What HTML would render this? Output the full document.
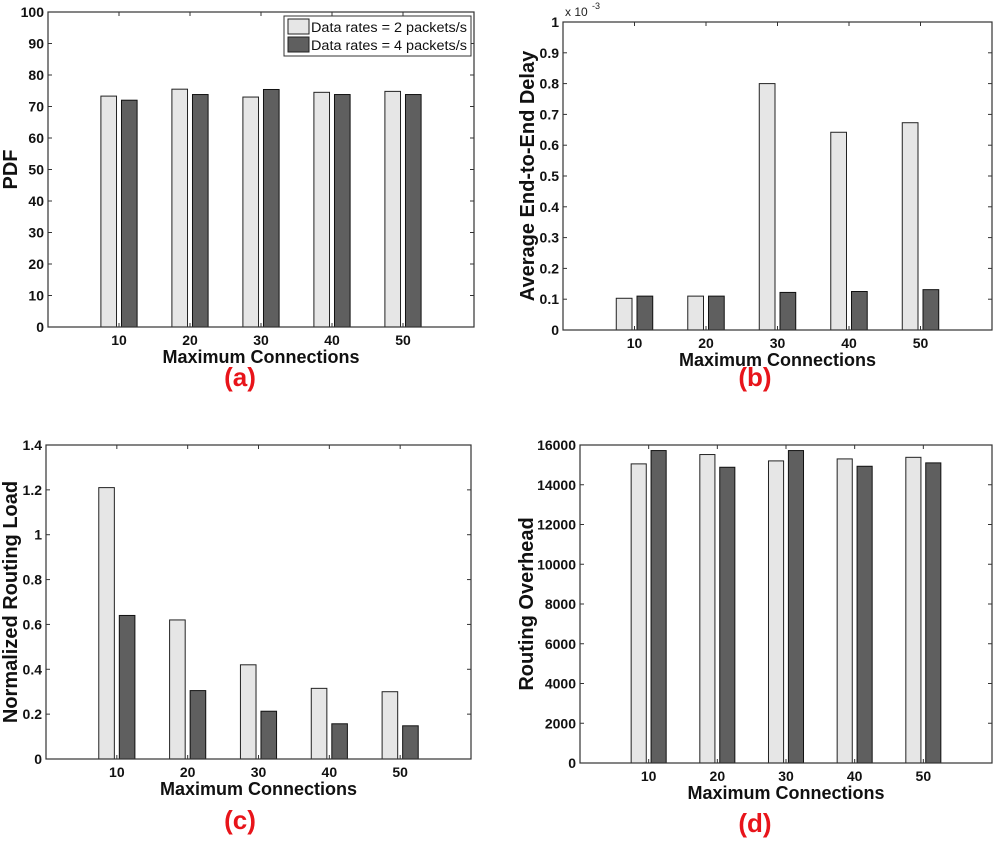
<!DOCTYPE html>
<html><head><meta charset="utf-8"><style>
html,body{margin:0;padding:0;background:#fff;}
svg{display:block;font-family:"Liberation Sans",Arial,sans-serif;}
.tk{font-size:14px;font-weight:bold;fill:#111;}
.at{font-size:18px;font-weight:bold;fill:#111;}
.yt{font-size:20px;font-weight:bold;fill:#111;}
.pl{font-size:26px;font-weight:bold;fill:#e8141a;}
</style></head><body>
<svg id="fig" width="995" height="851" viewBox="0 0 995 851"></svg>
<script>
const categories = [10, 20, 30, 40, 50];
const pdf2 = [73.3, 75.5, 73.0, 74.5, 74.8];
const pdf4 = [72.0, 73.8, 75.4, 73.8, 73.8];
const delay2 = [0.103, 0.110, 0.800, 0.642, 0.673];
const delay4 = [0.110, 0.110, 0.122, 0.125, 0.131];
const nrl2 = [1.21, 0.62, 0.42, 0.315, 0.30];
const nrl4 = [0.64, 0.305, 0.213, 0.157, 0.148];
const ovh2 = [15050, 15520, 15200, 15300, 15380];
const ovh4 = [15720, 14880, 15720, 14930, 15100];
const pdfTicks = [0,10,20,30,40,50,60,70,80,90,100];
const delayTicks = [0,0.1,0.2,0.3,0.4,0.5,0.6,0.7,0.8,0.9,1];
const nrlTicks = [0,0.2,0.4,0.6,0.8,1,1.2,1.4];
const ovhTicks = [0,2000,4000,6000,8000,10000,12000,14000,16000];
const legendLabels = ["Data rates = 2 packets/s", "Data rates = 4 packets/s"];

const NS = "http://www.w3.org/2000/svg";
const svg = document.getElementById('fig');
function mk(tag, attrs, parent, text){
  const e = document.createElementNS(NS, tag);
  for (const k in attrs) e.setAttribute(k, attrs[k]);
  if (text !== undefined) e.textContent = text;
  (parent || svg).appendChild(e);
  return e;
}

function panel(p){
  const g = mk('g', {});
  
  
  const xS = v => p.x0 + (v / 60) * (p.x1 - p.x0);
  const yS = v => p.y1 - (v / p.ymax) * (p.y1 - p.y0);
  const unit = (p.x1 - p.x0) / 60;
  const bw = 2.2 * unit, off = 1.45 * unit;
  categories.forEach((c, i) => {
    const cx = xS(c);
    const a = mk('rect', {x: cx - off - bw/2, y: yS(p.s1[i]), width: bw, height: yS(0) - yS(p.s1[i]), fill: '#e6e6e6', stroke: '#222', 'stroke-width': 1}, g);
    
    
    const b = mk('rect', {x: cx + off - bw/2, y: yS(p.s2[i]), width: bw, height: yS(0) - yS(p.s2[i]), fill: '#5f5f5f', stroke: '#111', 'stroke-width': 1}, g);
    
    
    mk('line', {x1: cx, x2: cx, y1: p.y0, y2: p.y0 + 4, stroke: '#333'}, g);
    mk('line', {x1: cx, x2: cx, y1: p.y1, y2: p.y1 - 4, stroke: '#333'}, g);
    const t = mk('text', {x: cx, y: p.y1 + 18, 'text-anchor': 'middle', class: 'tk'}, g, String(c));
    
    
  });
  p.ticks.forEach((v, i) => {
    const y = yS(v);
    mk('line', {x1: p.x0, x2: p.x0 + 4, y1: y, y2: y, stroke: '#333'}, g);
    mk('line', {x1: p.x1, x2: p.x1 - 4, y1: y, y2: y, stroke: '#333'}, g);
    const t = mk('text', {x: p.x0 - 4, y: y + 5, 'text-anchor': 'end', class: 'tk'}, g, String(v));
    
    
  });
  const box = mk('rect', {x: p.x0, y: p.y0, width: p.x1 - p.x0, height: p.y1 - p.y0, fill: 'none', stroke: '#333', 'stroke-width': 1.2}, g);
  
  
  const xt = mk('text', {x: (p.x0 + p.x1) / 2, y: p.y1 + 36, 'text-anchor': 'middle', class: 'at'}, g, 'Maximum Connections');
  
  
  const yt = mk('text', {x: 0, y: 0, 'text-anchor': 'middle', class: 'yt', transform: 'translate(' + p.ytx + ',' + ((p.y0 + p.y1) / 2) + ') rotate(-90)'}, g, p.ytitle);
  
  
  const lab = mk('text', {x: p.labx, y: p.laby, 'text-anchor': 'middle', class: 'pl'}, g, p.label);
  
  
  return g;
}

panel({name:'chart-pdf', x0:48, x1:474, y0:12, y1:327, ymax:100, s1:pdf2, s2:pdf4, ticks:pdfTicks, ytitle:'PDF', ytx:17, label:'(a)', labx:240, laby:386});
const gb = panel({name:'chart-delay', x0:563, x1:992, y0:22, y1:330, ymax:1, s1:delay2, s2:delay4, ticks:delayTicks, ytitle:'Average End-to-End Delay', ytx:534, label:'(b)', labx:755, laby:386});
const ex = mk('text', {x: 565, y: 16, style: 'font-size:12px;fill:#222'}, gb, 'x 10');


mk('text', {x: 592, y: 9, style: 'font-size:9px;fill:#222'}, gb, '-3');
panel({name:'chart-nrl', x0:46, x1:471, y0:445, y1:759, ymax:1.4, s1:nrl2, s2:nrl4, ticks:nrlTicks, ytitle:'Normalized Routing Load', ytx:17, label:'(c)', labx:240, laby:829});
panel({name:'chart-overhead', x0:580, x1:992, y0:445, y1:763, ymax:16000, s1:ovh2, s2:ovh4, ticks:ovhTicks, ytitle:'Routing Overhead', ytx:533, label:'(d)', labx:755, laby:832});

const lg = mk('g', {});


mk('rect', {x: 284, y: 16, width: 187, height: 40, fill: '#fff', stroke: '#333', 'stroke-width': 1}, lg);
const fills = ['#e6e6e6', '#5f5f5f'];
legendLabels.forEach((t, i) => {
  const e = mk('g', {}, lg);
  
  
  mk('rect', {x: 288, y: 19 + i * 18, width: 21, height: 15, fill: fills[i], stroke: '#222'}, e);
  mk('text', {x: 311, y: 32 + i * 18, style: 'font-size:13.5px;fill:#111', textLength: 156, lengthAdjust: 'spacingAndGlyphs'}, e, t);
});
</script>
</body></html>
